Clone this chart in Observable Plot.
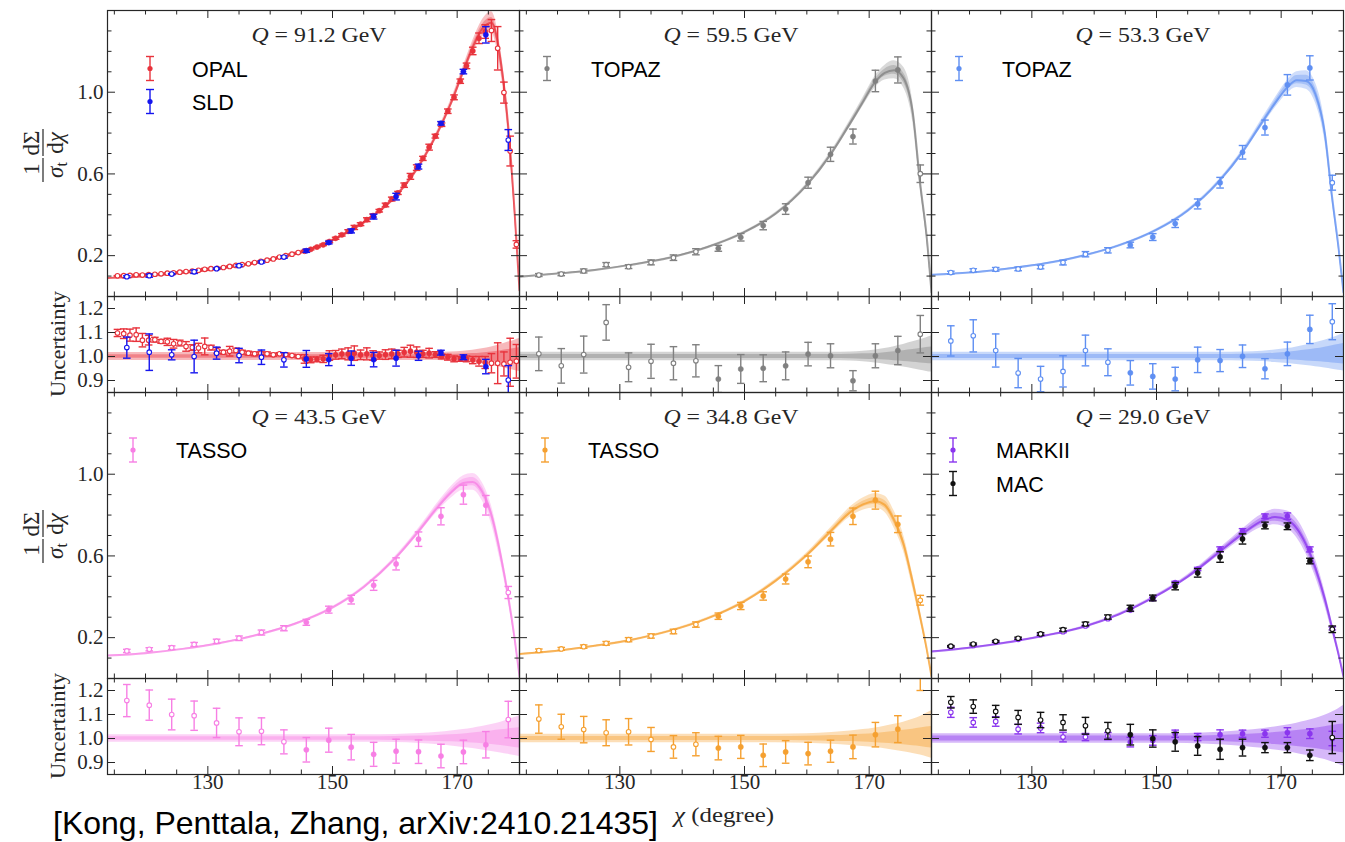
<!DOCTYPE html>
<html><head><meta charset="utf-8">
<script src="https://cdn.jsdelivr.net/npm/d3@7"></script>
<script src="https://cdn.jsdelivr.net/npm/@observablehq/plot@0.6"></script>
<style>
html,body{margin:0;padding:0;background:#fff;}
#fig{position:relative;width:1345px;height:842px;overflow:hidden;background:#fff;}
.panel{position:absolute;}
.panel svg{overflow:visible;max-width:none;}
</style></head><body><div id="fig"></div>
<script>
// ---------- axes / ticks ----------
const xDomain = [113.9, 180];
const mainYDomain = [0, 1.4];
const ratioYDomain = [0.85, 1.25];
const xTicksMajor = [130, 150, 170];
const xTicksMinor = [115, 120, 125, 135, 140, 145, 155, 160, 165, 175];
const yTicksMainMajor = [0.2, 0.6, 1.0];
const yTicksMainMinor = [0.1, 0.3, 0.4, 0.5, 0.7, 0.8, 0.9, 1.1, 1.2, 1.3];
const yTicksRatio = [0.9, 1.0, 1.1, 1.2];
const fitRange = [145, 175];
const energies = ["91.2", "59.5", "53.3", "43.5", "34.8", "29.0"];

// ---------- theory curves (grid) ----------
const chiGrid = [114, 120, 126, 132, 138, 144, 150, 155, 160, 164, 167, 169, 171, 172.5, 174, 175.5, 177, 178.2, 179.2, 180];
const theory91 = [0.090, 0.099, 0.115, 0.137, 0.167, 0.210, 0.275, 0.362, 0.486, 0.645, 0.810, 0.945, 1.104, 1.220, 1.310, 1.340, 1.150, 0.830, 0.420, 0.030];
const theory59 = [0.097, 0.112, 0.130, 0.156, 0.190, 0.241, 0.315, 0.405, 0.545, 0.703, 0.850, 0.952, 1.052, 1.095, 1.108, 1.070, 0.900, 0.550, 0.300, 0.020];
const theory53 = [0.106, 0.117, 0.136, 0.161, 0.198, 0.250, 0.326, 0.420, 0.562, 0.715, 0.855, 0.945, 1.025, 1.058, 1.055, 0.990, 0.800, 0.480, 0.240, 0.020];
const theory43 = [0.112, 0.124, 0.145, 0.174, 0.214, 0.268, 0.347, 0.447, 0.586, 0.728, 0.843, 0.910, 0.957, 0.962, 0.915, 0.800, 0.600, 0.400, 0.200, 0.010];
const theory35 = [0.120, 0.136, 0.160, 0.190, 0.233, 0.293, 0.378, 0.478, 0.604, 0.726, 0.815, 0.852, 0.868, 0.850, 0.775, 0.660, 0.470, 0.300, 0.150, 0.010];
const theory29 = [0.132, 0.150, 0.176, 0.209, 0.250, 0.314, 0.404, 0.498, 0.617, 0.713, 0.773, 0.790, 0.776, 0.735, 0.655, 0.540, 0.390, 0.245, 0.120, 0.010];

// ---------- theory uncertainty bands (relative, on chiGrid) ----------
const band91OH = [1.017,1.017,1.017,1.017,1.017,1.017,1.017,1.017,1.017,1.017,1.017,1.019,1.022,1.026,1.032,1.040,1.050,1.060,1.068,1.075];
const band91OL = [0.983,0.983,0.983,0.983,0.983,0.983,0.983,0.983,0.983,0.983,0.983,0.981,0.978,0.975,0.970,0.963,0.955,0.948,0.942,0.937];
const band91IH = [1.007,1.007,1.007,1.007,1.007,1.007,1.007,1.007,1.007,1.007,1.007,1.008,1.010,1.012,1.015,1.019,1.024,1.029,1.033,1.036];
const band91IL = [0.993,0.993,0.993,0.993,0.993,0.993,0.993,0.993,0.993,0.993,0.993,0.992,0.990,0.988,0.985,0.981,0.977,0.973,0.970,0.967];

const band59OH = [1.018,1.018,1.018,1.018,1.018,1.018,1.018,1.018,1.018,1.018,1.019,1.022,1.027,1.033,1.041,1.050,1.061,1.070,1.078,1.085];
const band59OL = [0.982,0.982,0.982,0.982,0.982,0.982,0.982,0.982,0.982,0.982,0.981,0.978,0.973,0.968,0.962,0.956,0.949,0.943,0.938,0.935];
const band59IH = [1.008,1.008,1.008,1.008,1.008,1.008,1.008,1.008,1.008,1.008,1.009,1.011,1.013,1.016,1.020,1.024,1.029,1.033,1.037,1.040];
const band59IL = [0.992,0.992,0.992,0.992,0.992,0.992,0.992,0.992,0.992,0.992,0.991,0.989,0.987,0.985,0.982,0.979,0.976,0.973,0.971,0.970];

const band53OH = [1.018,1.018,1.018,1.018,1.018,1.018,1.018,1.018,1.018,1.019,1.022,1.027,1.033,1.040,1.048,1.057,1.068,1.078,1.088,1.096];
const band53OL = [0.982,0.982,0.982,0.982,0.982,0.982,0.982,0.982,0.982,0.981,0.979,0.975,0.971,0.967,0.962,0.957,0.952,0.947,0.943,0.940];
const band53IH = [1.008,1.008,1.008,1.008,1.008,1.008,1.008,1.008,1.008,1.009,1.011,1.014,1.018,1.022,1.027,1.032,1.039,1.045,1.050,1.054];
const band53IL = [0.992,0.992,0.992,0.992,0.992,0.992,0.992,0.992,0.992,0.991,0.990,0.988,0.986,0.984,0.981,0.979,0.976,0.973,0.971,0.969];

const band43OH = [1.016,1.016,1.016,1.016,1.016,1.016,1.016,1.016,1.017,1.021,1.026,1.031,1.037,1.043,1.050,1.058,1.068,1.078,1.087,1.095];
const band43OL = [0.984,0.984,0.984,0.984,0.984,0.984,0.984,0.984,0.983,0.979,0.974,0.969,0.963,0.958,0.952,0.946,0.940,0.934,0.929,0.925];
const band43IH = [1.007,1.007,1.007,1.007,1.007,1.007,1.007,1.007,1.008,1.010,1.013,1.016,1.019,1.023,1.027,1.031,1.036,1.040,1.043,1.045];
const band43IL = [0.993,0.993,0.993,0.993,0.993,0.993,0.993,0.993,0.992,0.990,0.988,0.986,0.983,0.981,0.978,0.975,0.971,0.967,0.963,0.960];

const band35OH = [1.018,1.018,1.018,1.018,1.018,1.018,1.018,1.018,1.020,1.025,1.031,1.037,1.044,1.051,1.059,1.068,1.080,1.092,1.105,1.116];
const band35OL = [0.982,0.982,0.982,0.982,0.982,0.982,0.982,0.982,0.980,0.976,0.971,0.967,0.962,0.957,0.951,0.945,0.938,0.931,0.924,0.918];
const band35IH = [1.008,1.008,1.008,1.008,1.008,1.008,1.008,1.008,1.009,1.012,1.015,1.018,1.021,1.025,1.029,1.034,1.039,1.044,1.048,1.050];
const band35IL = [0.992,0.992,0.992,0.992,0.992,0.992,0.992,0.992,0.991,0.989,0.987,0.985,0.982,0.980,0.977,0.974,0.970,0.967,0.963,0.960];

const band29OH = [1.020,1.020,1.020,1.020,1.020,1.020,1.020,1.021,1.026,1.033,1.041,1.048,1.056,1.064,1.073,1.083,1.097,1.110,1.124,1.137];
const band29OL = [0.980,0.980,0.980,0.980,0.980,0.980,0.980,0.979,0.974,0.967,0.959,0.952,0.945,0.938,0.930,0.922,0.912,0.902,0.893,0.885];
const band29IH = [1.010,1.010,1.010,1.010,1.010,1.010,1.010,1.010,1.013,1.017,1.021,1.025,1.029,1.033,1.038,1.043,1.049,1.054,1.058,1.060];
const band29IL = [0.990,0.990,0.990,0.990,0.990,0.990,0.990,0.990,0.987,0.983,0.979,0.975,0.971,0.967,0.963,0.958,0.952,0.947,0.943,0.940];

// ---------- measurements ----------
const chiOPAL = [115.5,116.5,117.5,118.5,119.5,120.5,121.5,122.5,123.5,124.5,125.5,126.5,127.5,128.5,129.5,130.5,131.5,132.5,133.5,134.5,135.5,136.5,137.5,138.5,139.5,140.5,141.5,142.5,143.5,144.5,145.5,146.5,147.5,148.5,149.5,150.5,151.5,152.5,153.5,154.5,155.5,156.5,157.5,158.5,159.5,160.5,161.5,162.5,163.5,164.5,165.5,166.5,167.5,168.5,169.5,170.5,171.5,172.5,173.5,174.5,175.5,176.5,177.5,178.5,179.5];
const opalY = [0.101,0.102,0.103,0.106,0.105,0.107,0.109,0.111,0.114,0.116,0.119,0.122,0.124,0.128,0.133,0.136,0.138,0.142,0.147,0.152,0.156,0.160,0.166,0.172,0.178,0.184,0.193,0.200,0.207,0.215,0.222,0.231,0.242,0.253,0.269,0.285,0.302,0.319,0.338,0.354,0.376,0.396,0.420,0.448,0.477,0.507,0.545,0.588,0.631,0.676,0.731,0.785,0.841,0.907,0.975,1.054,1.129,1.202,1.264,1.297,1.302,1.215,0.998,0.712,0.255];
const opalR = [1.098,1.095,1.089,1.091,1.068,1.068,1.070,1.063,1.061,1.053,1.056,1.042,1.037,1.035,1.042,1.037,1.025,1.018,1.022,1.025,1.018,1.014,1.011,1.014,1.011,1.007,1.011,1.008,1.004,1.000,0.990,0.986,0.988,0.990,1.004,1.007,1.011,1.011,1.014,1.007,1.011,1.004,1.004,1.008,1.011,1.011,1.018,1.022,1.018,1.011,1.014,1.008,1.000,0.997,0.990,0.990,0.990,0.985,0.980,0.975,0.972,0.972,0.969,0.976,0.980];
const opalE = [0.015,0.020,0.025,0.028,0.028,0.020,0.010,0.008,0.015,0.018,0.012,0.020,0.012,0.020,0.035,0.010,0.012,0.008,0.020,0.010,0.008,0.008,0.008,0.005,0.008,0.006,0.005,0.006,0.005,0.006,0.018,0.012,0.010,0.015,0.020,0.018,0.020,0.025,0.030,0.020,0.025,0.020,0.015,0.020,0.020,0.015,0.020,0.025,0.022,0.015,0.020,0.012,0.010,0.012,0.012,0.010,0.012,0.015,0.020,0.025,0.040,0.085,0.050,0.100,0.070];

const chiBins = [117, 120.6, 124.2, 127.8, 131.4, 135, 138.6, 142.2, 145.8, 149.4, 153, 156.6, 160.2, 163.8, 167.4, 171, 174.6, 178.2];
const sldY = [0.097,0.102,0.110,0.121,0.136,0.151,0.169,0.193,0.224,0.264,0.321,0.391,0.489,0.636,0.848,1.101,1.281,0.766];
const sldR = [1.037,1.018,1.007,1.000,1.014,1.004,0.997,0.986,0.990,0.987,0.993,0.987,0.993,1.003,1.016,0.997,0.958,0.902];
const sldE = [0.044,0.076,0.021,0.068,0.025,0.030,0.030,0.030,0.035,0.025,0.030,0.030,0.033,0.019,0.010,0.010,0.030,0.060];

const topaz59Y = [0.105,0.110,0.125,0.156,0.146,0.167,0.190,0.219,0.236,0.290,0.347,0.428,0.557,0.696,0.783,1.055,1.109,0.601];
const topaz59R = [1.011,0.961,1.008,1.142,0.955,0.980,0.972,0.982,0.906,0.948,0.951,0.961,1.010,1.003,0.899,1.003,1.025,1.093];
const topaz59E = [0.070,0.072,0.077,0.074,0.060,0.071,0.069,0.067,0.056,0.060,0.056,0.058,0.049,0.050,0.042,0.050,0.059,0.078];

const topaz53Y = [0.117,0.128,0.133,0.135,0.144,0.166,0.207,0.226,0.252,0.291,0.357,0.453,0.557,0.706,0.827,1.036,1.119,0.557];
const topaz53R = [1.065,1.086,1.025,0.931,0.906,0.938,1.025,0.976,0.932,0.917,0.906,0.986,0.983,1.001,0.949,1.011,1.113,1.145];
const topaz53E = [0.063,0.067,0.069,0.061,0.053,0.065,0.064,0.056,0.051,0.053,0.049,0.053,0.046,0.047,0.042,0.049,0.059,0.075];

const tasso43Y = [0.135,0.143,0.151,0.167,0.182,0.197,0.225,0.246,0.275,0.337,0.386,0.456,0.561,0.682,0.794,0.900,0.848,0.421];
const tasso43R = [1.158,1.139,1.100,1.095,1.065,1.028,1.030,0.986,0.953,0.993,0.964,0.934,0.947,0.945,0.927,0.944,0.974,1.079];
const tasso43E = [0.067,0.063,0.064,0.061,0.061,0.058,0.056,0.050,0.051,0.050,0.053,0.050,0.050,0.049,0.049,0.049,0.055,0.076];

const tasso35Y = [0.137,0.145,0.156,0.172,0.190,0.208,0.230,0.264,0.305,0.355,0.404,0.487,0.571,0.682,0.794,0.873,0.755,0.383];
const tasso35R = [1.081,1.049,1.037,1.024,1.028,0.996,0.965,0.976,0.960,0.965,0.930,0.944,0.937,0.947,0.965,1.016,1.039,1.280];
const tasso35E = [0.059,0.052,0.055,0.054,0.055,0.050,0.047,0.048,0.049,0.048,0.047,0.047,0.047,0.046,0.049,0.051,0.056,0.080];

const markiiY = [0.155,0.162,0.179,0.192,0.214,0.229,0.257,0.293,0.335,0.390,0.469,0.536,0.632,0.723,0.794,0.795,0.632,0.245];
const markiiR = [1.109,1.067,1.071,1.039,1.044,1.006,1.006,1.010,0.985,0.992,1.020,1.006,1.016,1.020,1.020,1.025,1.020,1.000];
const markiiE = [0.021,0.020,0.020,0.020,0.020,0.020,0.015,0.015,0.020,0.020,0.015,0.015,0.020,0.015,0.015,0.020,0.020,0.030];

const macY = [0.158,0.169,0.182,0.197,0.218,0.239,0.267,0.301,0.344,0.394,0.452,0.517,0.595,0.683,0.749,0.745,0.575,0.241];
const macR = [1.151,1.133,1.113,1.088,1.077,1.067,1.053,1.032,1.016,1.000,0.986,0.969,0.955,0.962,0.962,0.962,0.930,1.004];
const macE = [0.024,0.028,0.025,0.029,0.032,0.032,0.035,0.035,0.043,0.036,0.039,0.039,0.042,0.035,0.021,0.021,0.022,0.067];

// ---------- styling ----------
const ink = "#262626";
const cRed = "#e8333c", cSld = "#1515ee", cGray = "#808080", cBlue = "#5f8ff2",
      cPink = "#f77fe4", cOrange = "#f5a030", cPurple = "#8a35ee", cBlack = "#111111";
const W = 412, MAIN_H = 286, RATIO_H = 96;
const colLeft = [107, 519, 931];
const rowTop = [10, 392];

const capSymbol = {draw(ctx, size) { const r = Math.sqrt(size / Math.PI); ctx.moveTo(-r, 0); ctx.lineTo(r, 0); }};

function makeRows(chi, y, r, e) {
  return chi.map((c, i) => ({chi: c, y: y[i], r: r[i], e: e[i], open: c < fitRange[0] || c > fitRange[1]}));
}
function bandRows(theory, OH, OL, IH, IL, main) {
  return chiGrid.map((c, i) => {
    const t = main ? theory[i] : 1;
    return {chi: c, th: theory[i], hi: t * OH[i], lo: t * OL[i], ihi: t * IH[i], ilo: t * IL[i]};
  });
}
function dataMarks(rows, color, kind) {
  const V = kind === "main" ? d => d.y : d => d.r;
  const D = kind === "main" ? d => d.y * d.e / d.r : d => d.e;
  const lo = d => V(d) - D(d), hi = d => V(d) + D(d);
  const common = {x: "chi", stroke: color, strokeWidth: 1.4, clip: true};
  return [
    Plot.ruleX(rows, {...common, y1: lo, y2: hi}),
    Plot.dot(rows, {...common, y: lo, symbol: capSymbol, r: 3.8, fill: "none"}),
    Plot.dot(rows, {...common, y: hi, symbol: capSymbol, r: 3.8, fill: "none"}),
    Plot.dot(rows.filter(d => !d.open), {x: "chi", y: V, r: 2.6, fill: color, stroke: color, strokeWidth: 0.5, clip: true}),
    Plot.dot(rows.filter(d => d.open), {x: "chi", y: V, r: 2.3, fill: "white", stroke: color, strokeWidth: 1.1, clip: true})
  ];
}
function ticksAndFrame(h, yMajor, yMinor) {
  const M = 8, m = 4.5;
  const out = [
    Plot.tickX(xTicksMajor, {x: d => d, insetTop: h - M, stroke: ink}),
    Plot.tickX(xTicksMajor, {x: d => d, insetBottom: h - M, stroke: ink}),
    Plot.tickX(xTicksMinor, {x: d => d, insetTop: h - m, stroke: ink}),
    Plot.tickX(xTicksMinor, {x: d => d, insetBottom: h - m, stroke: ink}),
    Plot.tickY(yMajor, {y: d => d, insetRight: W - M, stroke: ink}),
    Plot.tickY(yMajor, {y: d => d, insetLeft: W - M, stroke: ink})
  ];
  if (yMinor.length) out.push(
    Plot.tickY(yMinor, {y: d => d, insetRight: W - m, stroke: ink}),
    Plot.tickY(yMinor, {y: d => d, insetLeft: W - m, stroke: ink}));
  out.push(Plot.frame({stroke: ink, strokeWidth: 1.2}));
  return out;
}
const plotStyle = {overflow: "visible", background: "transparent", fontFamily: "'Liberation Serif', serif", fontSize: "21px", color: ink};

const fig = document.getElementById("fig");
function mount(el, left, top) {
  const div = document.createElement("div");
  div.className = "panel";
  div.style.left = left + "px";
  div.style.top = top + "px";
  div.appendChild(el);
  fig.appendChild(div);
}

const panels = [
  {col: 0, row: 0, energy: energies[0], color: cRed, theory: theory91, band: [band91OH, band91OL, band91IH, band91IL],
   sets: [[makeRows(chiOPAL, opalY, opalR, opalE), cRed], [makeRows(chiBins, sldY, sldR, sldE), cSld]]},
  {col: 1, row: 0, energy: energies[1], color: cGray, theory: theory59, band: [band59OH, band59OL, band59IH, band59IL],
   sets: [[makeRows(chiBins, topaz59Y, topaz59R, topaz59E), cGray]]},
  {col: 2, row: 0, energy: energies[2], color: cBlue, theory: theory53, band: [band53OH, band53OL, band53IH, band53IL],
   sets: [[makeRows(chiBins, topaz53Y, topaz53R, topaz53E), cBlue]]},
  {col: 0, row: 1, energy: energies[3], color: cPink, theory: theory43, band: [band43OH, band43OL, band43IH, band43IL],
   sets: [[makeRows(chiBins, tasso43Y, tasso43R, tasso43E), cPink]]},
  {col: 1, row: 1, energy: energies[4], color: cOrange, theory: theory35, band: [band35OH, band35OL, band35IH, band35IL],
   sets: [[makeRows(chiBins, tasso35Y, tasso35R, tasso35E), cOrange]]},
  {col: 2, row: 1, energy: energies[5], color: cPurple, theory: theory29, band: [band29OH, band29OL, band29IH, band29IL],
   sets: [[makeRows(chiBins, markiiY, markiiR, markiiE), cPurple], [makeRows(chiBins, macY, macR, macE), cBlack]]}
];

for (const p of panels) {
  const left = colLeft[p.col], top = rowTop[p.row];
  const mb = bandRows(p.theory, ...p.band, true);
  const rb = bandRows(p.theory, ...p.band, false);
  // main panel
  const mainMarks = [
    Plot.areaY(mb, {x: "chi", y1: "lo", y2: "hi", fill: p.color, fillOpacity: 0.3, curve: "monotone-x", clip: true}),
    Plot.areaY(mb, {x: "chi", y1: "ilo", y2: "ihi", fill: p.color, fillOpacity: 0.35, curve: "monotone-x", clip: true}),
    Plot.line(mb, {x: "chi", y: "th", stroke: p.color, strokeWidth: 2, strokeOpacity: 0.75, curve: "monotone-x", clip: true})
  ];
  for (const [rows, c] of p.sets) mainMarks.push(...dataMarks(rows, c, "main"));
  mainMarks.push(...ticksAndFrame(MAIN_H, yTicksMainMajor, yTicksMainMinor));
  if (p.col === 0) mainMarks.push(Plot.text(yTicksMainMajor, {y: d => d, frameAnchor: "left", dx: -4, textAnchor: "end", text: d => d.toFixed(1), fill: ink, fontSize: 21}));
  mount(Plot.plot({width: W, height: MAIN_H, margin: 0, style: plotStyle,
    x: {domain: xDomain, axis: null}, y: {domain: mainYDomain, axis: null}, marks: mainMarks}), left, top);

  // ratio panel
  const ratioMarks = [
    Plot.areaY(rb, {x: "chi", y1: "lo", y2: "hi", fill: p.color, fillOpacity: 0.35, curve: "monotone-x", clip: true}),
    Plot.areaY(rb, {x: "chi", y1: "ilo", y2: "ihi", fill: p.color, fillOpacity: 0.4, curve: "monotone-x", clip: true})
  ];
  for (const [rows, c] of p.sets) ratioMarks.push(...dataMarks(rows, c, "ratio"));
  ratioMarks.push(...ticksAndFrame(RATIO_H, yTicksRatio, []));
  if (p.col === 0) ratioMarks.push(Plot.text(yTicksRatio, {y: d => d, frameAnchor: "left", dx: -4, textAnchor: "end", text: d => d.toFixed(1), fill: ink, fontSize: 21}));
  if (p.row === 1) ratioMarks.push(Plot.text(xTicksMajor, {x: d => d, frameAnchor: "bottom", dy: 14, text: d => String(d), fill: ink, fontSize: 21}));
  mount(Plot.plot({width: W, height: RATIO_H, margin: 0, style: plotStyle,
    x: {domain: xDomain, axis: null}, y: {domain: ratioYDomain, axis: null}, marks: ratioMarks}), left, top + MAIN_H);
}

// ---------- text overlay: titles, legends, labels, caption ----------
const ov = d3.select(fig).append("svg").attr("width", 1345).attr("height", 842)
  .style("position", "absolute").style("left", "0px").style("top", "0px").style("pointer-events", "none");
const serif = "'Liberation Serif', serif", sans = "'Liberation Sans', Arial, sans-serif";

for (const p of panels) {
  const left = colLeft[p.col], top = rowTop[p.row];
  const t = ov.append("text").attr("x", left + 212).attr("y", top + 31.7).attr("text-anchor", "middle")
    .attr("font-family", serif).attr("font-size", 22).attr("fill", ink)
    .attr("textLength", 135).attr("lengthAdjust", "spacingAndGlyphs");
  t.append("tspan").attr("font-style", "italic").text("Q");
  t.append("tspan").text(" = " + p.energy + " GeV");
}

const legendItems = [
  {gx: 150, gy: 68.5, tx: 192, color: cRed, label: "OPAL"},
  {gx: 150, gy: 101.5, tx: 192, color: cSld, label: "SLD"},
  {gx: 547, gy: 68.5, tx: 591, color: cGray, label: "TOPAZ"},
  {gx: 959, gy: 68.5, tx: 1002, color: cBlue, label: "TOPAZ"},
  {gx: 133, gy: 450, tx: 176, color: cPink, label: "TASSO"},
  {gx: 545, gy: 450, tx: 588, color: cOrange, label: "TASSO"},
  {gx: 953, gy: 450, tx: 996, color: cPurple, label: "MARKII"},
  {gx: 953, gy: 483.5, tx: 996, color: cBlack, label: "MAC"}
];
for (const L of legendItems) {
  const g = ov.append("g").attr("stroke", L.color).attr("stroke-width", 1.4);
  g.append("line").attr("x1", L.gx).attr("x2", L.gx).attr("y1", L.gy - 12).attr("y2", L.gy + 12);
  g.append("line").attr("x1", L.gx - 4).attr("x2", L.gx + 4).attr("y1", L.gy - 12).attr("y2", L.gy - 12);
  g.append("line").attr("x1", L.gx - 4).attr("x2", L.gx + 4).attr("y1", L.gy + 12).attr("y2", L.gy + 12);
  ov.append("circle").attr("cx", L.gx).attr("cy", L.gy).attr("r", 2.6).attr("fill", L.color);
  ov.append("text").attr("x", L.tx).attr("y", L.gy + 8).attr("font-family", sans).attr("font-size", 21.5)
    .attr("fill", "#000").text(L.label);
}

// y labels: fraction (1/σt)(dΣ/dχ)
for (const cy of [155, 536]) {
  const g = ov.append("g").attr("transform", `translate(43,${cy}) rotate(-90)`)
    .attr("font-family", serif).attr("font-size", 23).attr("fill", ink);
  g.append("text").attr("x", -14).attr("y", -4.5).attr("text-anchor", "middle").text("1");
  const n2 = g.append("text").attr("x", 12).attr("y", -4.5).attr("text-anchor", "middle");
  n2.append("tspan").text("d");
  n2.append("tspan").text("Σ");
  g.append("line").attr("x1", -27).attr("x2", -3).attr("y1", 0).attr("y2", 0).attr("stroke", ink).attr("stroke-width", 1.2);
  g.append("line").attr("x1", -1).attr("x2", 26).attr("y1", 0).attr("y2", 0).attr("stroke", ink).attr("stroke-width", 1.2);
  const d1 = g.append("text").attr("x", -15).attr("y", 20).attr("text-anchor", "middle");
  d1.append("tspan").attr("font-style", "italic").text("σ");
  d1.append("tspan").attr("font-size", 16).attr("dy", 4).text("t");
  const d2 = g.append("text").attr("x", 12).attr("y", 20).attr("text-anchor", "middle");
  d2.append("tspan").text("d");
  d2.append("tspan").attr("font-style", "italic").text("χ");
}
for (const cy of [344, 726]) {
  ov.append("text").attr("transform", `translate(64.5,${cy}) rotate(-90)`).attr("text-anchor", "middle")
    .attr("font-family", serif).attr("font-size", 20).attr("fill", ink)
    .attr("textLength", 106).attr("lengthAdjust", "spacingAndGlyphs").text("Uncertainty");
}
const xl = ov.append("text").attr("x", 724).attr("y", 822).attr("text-anchor", "middle")
  .attr("font-family", serif).attr("font-size", 20).attr("fill", ink)
  .attr("textLength", 100).attr("lengthAdjust", "spacingAndGlyphs");
xl.append("tspan").attr("font-style", "italic").text("χ");
xl.append("tspan").text(" (degree)");

ov.append("text").attr("x", 53).attr("y", 834).attr("font-family", sans).attr("font-size", 32)
  .attr("fill", "#000").attr("textLength", 605).attr("lengthAdjust", "spacingAndGlyphs")
  .text("[Kong, Penttala, Zhang, arXiv:2410.21435]");
</script>
</body></html>
